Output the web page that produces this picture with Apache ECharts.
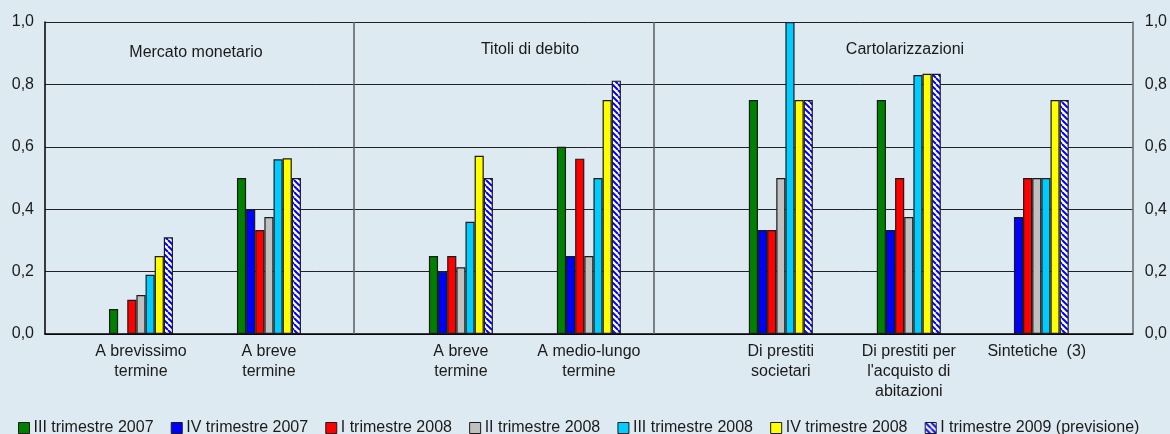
<!DOCTYPE html>
<html>
<head>
<meta charset="utf-8">
<script src="https://cdn.jsdelivr.net/npm/echarts@6/dist/echarts.min.js"></script>
<style>
html,body{margin:0;padding:0;background:#deeaf1;}
#c{width:1170px;height:434px;}
</style>
</head>
<body>
<div id="c"></div>
<script>
// Categories and their slot positions along the axis (17 slots, empty slots are spacing)
var categories = ['A brevissimo\ntermine', 'A breve\ntermine', 'A breve\ntermine', 'A medio-lungo\ntermine', 'Di prestiti\nsocietari', "Di prestiti per\nl'acquisto di\nabitazioni", 'Sintetiche  (3)'];
var slotIndex = [1, 3, 6, 8, 11, 13, 15];
var slotCount = 17;
var sectionNames = ['Mercato monetario', 'Titoli di debito', 'Cartolarizzazioni'];
var sectionBreaks = [4.835, 9.513];
var seriesNames = ['III trimestre 2007', 'IV trimestre 2007', 'I trimestre 2008', 'II trimestre 2008', 'III trimestre 2008', 'IV trimestre 2008', 'I trimestre 2009 (previsione)'];
var q3_2007 = [0.08, 0.50, 0.25, 0.60, 0.75, 0.75, null];
var q4_2007 = [null, 0.40, 0.20, 0.25, 0.333, 0.333, 0.375];
var q1_2008 = [0.11, 0.333, 0.25, 0.562, 0.333, 0.50, 0.50];
var q2_2008 = [0.125, 0.375, 0.214, 0.25, 0.50, 0.375, 0.50];
var q3_2008 = [0.19, 0.56, 0.36, 0.50, 1.00, 0.83, 0.50];
var q4_2008 = [0.25, 0.563, 0.571, 0.75, 0.75, 0.834, 0.75];
var q1_2009 = [0.31, 0.50, 0.50, 0.812, 0.75, 0.834, 0.75];
var yTicks = [0, 0.2, 0.4, 0.6, 0.8, 1.0];

var seriesValues = [q3_2007, q4_2007, q1_2008, q2_2008, q3_2008, q4_2008, q1_2009];

// hatch pattern
var P = 6;
var pc = document.createElement('canvas');
pc.width = P; pc.height = P;
var ctx = pc.getContext('2d');
ctx.fillStyle = '#ffffff'; ctx.fillRect(0,0,P,P);
ctx.strokeStyle = '#0000ff'; ctx.lineWidth = 2;
for (var k = -1; k <= 1; k++) {
  ctx.beginPath(); ctx.moveTo(k*P, 0); ctx.lineTo(k*P+P, P); ctx.stroke();
}
var colors = ['#008000', '#0000ff', '#ff0000', '#c0c0c0', '#00ccff', '#ffff00', {image: pc, repeat: 'repeat'}];

var slotLabels = [];
for (var i = 0; i < slotCount; i++) slotLabels.push('');
slotIndex.forEach(function (s, j) { slotLabels[s] = categories[j]; });

function toSlots(arr) {
  var out = [];
  for (var i = 0; i < slotCount; i++) out.push(null);
  slotIndex.forEach(function (s, j) { out[s] = arr[j]; });
  return out;
}

var font = 'Liberation Sans';
var FS = 16;
var series = seriesValues.map(function (vals, i) {
  return {
    name: seriesNames[i],
    type: 'bar',
    xAxisIndex: 0,
    yAxisIndex: 0,
    data: toSlots(vals),
    barGap: '0%',
    barCategoryGap: '0%',
    itemStyle: {color: colors[i], borderColor: '#1a1a1a', borderWidth: 1.2},
    emphasis: {disabled: true},
    animation: false
  };
});
series.push({
  type: 'scatter',
  xAxisIndex: 1,
  yAxisIndex: 0,
  data: [],
  silent: true,
  markLine: {
    symbol: 'none',
    silent: true,
    label: {show: false},
    lineStyle: {color: '#606468', width: 1.6, type: 'solid'},
    data: sectionBreaks.map(function (b) { return {xAxis: b}; })
  },
  animation: false
});

var chart = echarts.init(document.getElementById('c'));
chart.setOption({
  backgroundColor: '#deeaf1',
  animation: false,
  textStyle: {fontFamily: font},
  grid: {left: 45, right: 35, top: 22, bottom: 100},
  legend: {
    data: seriesNames,
    left: 13, top: 415,
    itemWidth: 11, itemHeight: 11, itemGap: 17.2,
    icon: 'rect',
    itemStyle: {borderColor: '#1a1a1a', borderWidth: 1},
    textStyle: {fontFamily: font, fontSize: FS, color: '#1a1a1a', padding: [0, 0, 0, -1]},
    selectedMode: false
  },
  xAxis: [{
    type: 'category',
    data: slotLabels,
    axisTick: {show: false},
    axisLine: {lineStyle: {color: '#000', width: 1.5}},
    axisLabel: {interval: 0, fontFamily: font, fontSize: FS, color: '#1a1a1a', lineHeight: 20, margin: 8},
    splitLine: {show: false}
  }, {
    type: 'value', min: 0, max: slotCount, show: false
  }],
  yAxis: [{
    type: 'value', min: 0, max: 1, interval: 0.2,
    axisLine: {show: true, lineStyle: {color: '#000', width: 1.5}},
    axisTick: {show: false},
    axisLabel: {fontFamily: font, fontSize: FS, color: '#1a1a1a', margin: 11,
      formatter: function (v) { return v.toFixed(1).replace('.', ','); }},
    splitLine: {show: true, lineStyle: {color: '#222', width: 1}}
  }, {
    type: 'value', min: 0, max: 1, interval: 0.2, position: 'right',
    axisLine: {show: true, lineStyle: {color: '#666', width: 1.5}},
    axisTick: {show: false},
    axisLabel: {fontFamily: font, fontSize: FS, color: '#1a1a1a', margin: 12,
      formatter: function (v) { return v.toFixed(1).replace('.', ','); }},
    splitLine: {show: false}
  }],
  graphic: [
    {type: 'text', x: 196, y: 53, style: {text: sectionNames[0], font: FS + 'px "Liberation Sans"', fill: '#1a1a1a', align: 'center', verticalAlign: 'middle'}},
    {type: 'text', x: 530, y: 50, style: {text: sectionNames[1], font: FS + 'px "Liberation Sans"', fill: '#1a1a1a', align: 'center', verticalAlign: 'middle'}},
    {type: 'text', x: 905, y: 50, style: {text: sectionNames[2], font: FS + 'px "Liberation Sans"', fill: '#1a1a1a', align: 'center', verticalAlign: 'middle'}}
  ],
  series: series
});
</script>
</body>
</html>
